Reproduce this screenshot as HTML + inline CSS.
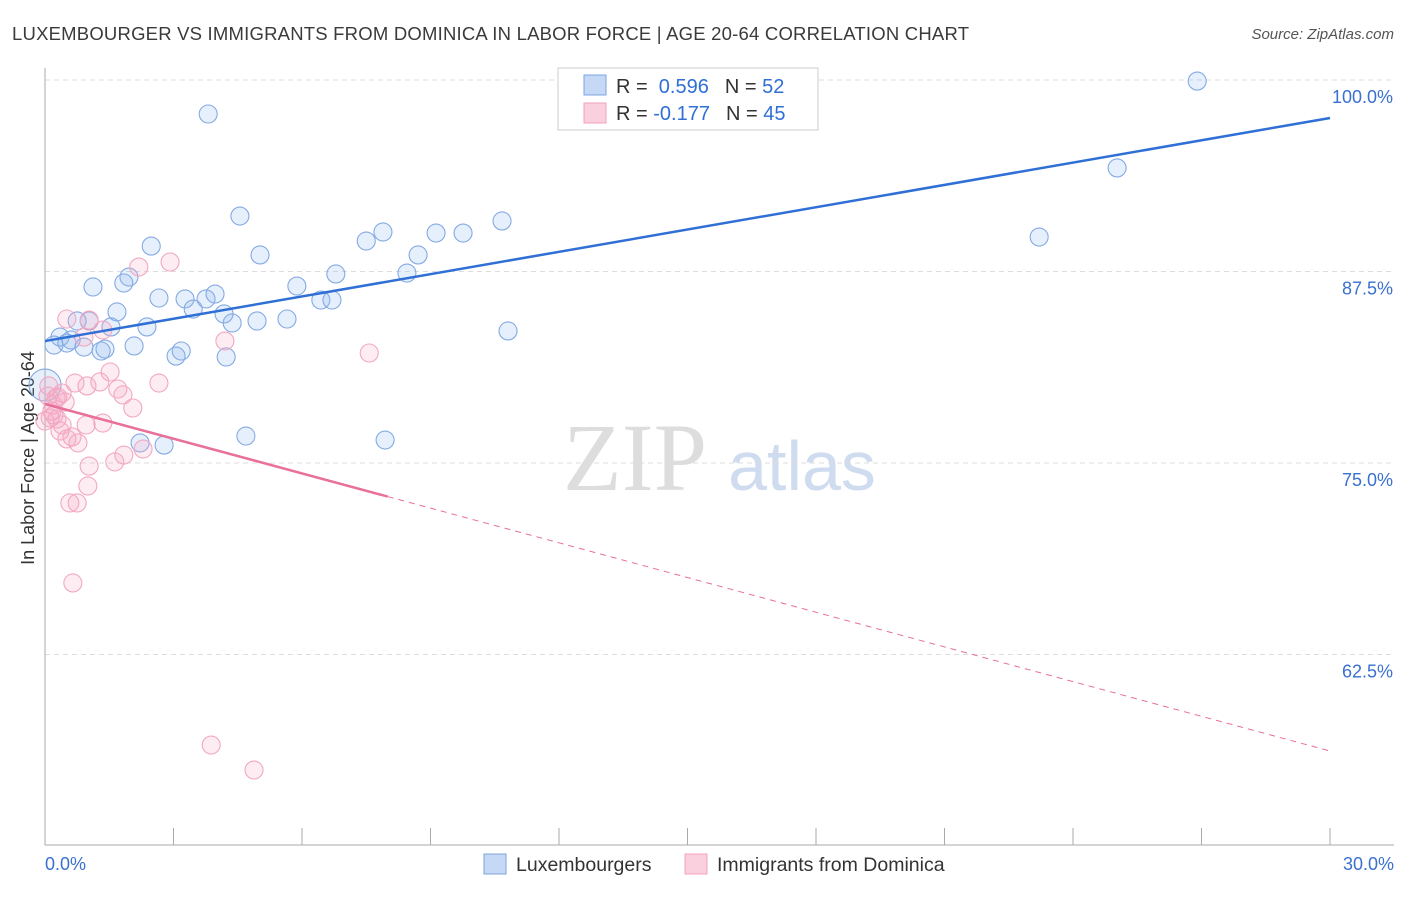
<!DOCTYPE html>
<html><head><meta charset="utf-8"><style>
body{margin:0;background:#fff;font-family:"Liberation Sans",sans-serif;}
</style></head><body>
<svg id="chart" width="1406" height="892" xmlns="http://www.w3.org/2000/svg" font-family="Liberation Sans, sans-serif">
<text x="12" y="40" font-size="18.5" fill="#3a3a3a" textLength="957" lengthAdjust="spacing">LUXEMBOURGER VS IMMIGRANTS FROM DOMINICA IN LABOR FORCE | AGE 20-64 CORRELATION CHART</text>
<text x="1394" y="39" font-size="15" fill="#555" font-style="italic" text-anchor="end">Source: ZipAtlas.com</text>
<g>
<text x="635" y="490" font-size="96" fill="#ddd" font-family="Liberation Serif, serif" text-anchor="middle">ZIP</text>
<text x="802" y="490" font-size="70" fill="#cfdcf0" text-anchor="middle">atlas</text>
</g>
<text transform="translate(34,458) rotate(-90)" font-size="18" fill="#333" text-anchor="middle">In Labor Force | Age 20-64</text>
<g id="grid"></g><g id="axes"></g><g id="marks"></g>
<g>
<rect x="558" y="68" width="260" height="62" fill="#fff" stroke="#ccc"/>
<rect x="584" y="75" width="22" height="20" fill="#c5d8f5" stroke="#7aa4e0"/>
<rect x="584" y="103" width="22" height="20" fill="#fbd0de" stroke="#f0a0bc"/>
<text x="616" y="93" font-size="20" fill="#333">R = <tspan fill="#2f6fd6">&#160;0.596</tspan><tspan dx="16">N = </tspan><tspan fill="#2f6fd6">52</tspan></text>
<text x="616" y="120" font-size="20" fill="#333">R = <tspan fill="#2f6fd6">-0.177</tspan><tspan dx="16">N = </tspan><tspan fill="#2f6fd6">45</tspan></text>
</g>
<g>
<rect x="484" y="854" width="22" height="20" fill="#c5d8f5" stroke="#7aa4e0"/>
<text x="516" y="871" font-size="19.5" fill="#333">Luxembourgers</text>
<rect x="685" y="854" width="22" height="20" fill="#fbd0de" stroke="#f0a0bc"/>
<text x="717" y="871" font-size="19.5" fill="#333">Immigrants from Dominica</text>
</g>
</svg>
<script>
const yTicks=[100,87.5,75,62.5];
const yTickLabels=["100.0%","87.5%","75.0%","62.5%"];
const xEnds=[0,30];
const xEndLabels=["0.0%","30.0%"];
const luxX=[3.81,26.90,25.03,23.21,4.55,2.48,5.02,7.89,7.50,9.13,9.76,10.67,8.71,6.79,8.45,1.96,1.84,1.12,2.66,3.27,3.76,3.97,5.88,6.44,6.70,3.46,1.68,4.18,4.37,4.95,5.65,2.38,1.54,1.03,0.75,0.35,0.21,0.51,0.61,0.91,1.31,1.40,2.08,3.18,3.06,4.23,10.81,0,2.22,2.78,4.69,7.94];
const luxY=[97.78,99.93,94.26,89.75,91.12,89.16,88.58,90.08,89.49,90.01,90.01,90.80,88.58,87.34,87.40,87.14,86.75,86.49,85.77,85.71,85.71,86.03,86.55,85.64,85.64,85.05,84.86,84.73,84.14,84.27,84.40,83.88,83.88,84.27,84.27,83.22,82.70,82.83,83.03,82.57,82.31,82.44,82.64,82.31,81.98,81.92,83.62,80.09,76.31,76.17,76.76,76.50];
const domX=[2.19,2.92,0.51,1.03,1.35,0.91,4.20,7.57,1.52,0.70,0.98,1.28,1.70,1.82,2.66,0.07,0.26,0.47,0.30,0.19,2.05,0.12,0.28,0.21,0.40,1.35,0.96,0.35,0.51,0.63,0.77,2.29,1.84,1.63,1.03,1.00,0.58,0.75,0.65,3.88,4.88,0,0.16,0.40,0.09];
const domY=[87.79,88.12,84.40,84.33,83.68,83.22,82.96,82.18,80.94,80.22,80.03,80.29,79.83,79.44,80.22,79.37,79.24,78.98,79.31,78.79,78.59,77.94,77.87,78.13,77.48,77.61,77.48,77.09,76.57,76.70,76.31,75.91,75.52,75.07,74.80,73.50,72.39,72.39,67.17,56.59,54.96,77.74,78.39,79.57,80.03];
const luxTrend=[82.96,97.52];
const domTrend=[78.85,56.20];
const domSolidEnd=8.0;
const X=v=>45+v/30*1285;
const Y=v=>80+(100-v)*15.32;
const NS="http://www.w3.org/2000/svg";
function mk(parent,tag,at){const e=document.createElementNS(NS,tag);for(const k in at)e.setAttribute(k,at[k]);document.getElementById(parent).appendChild(e);return e;}
yTicks.forEach((t,i)=>{
  const g=mk('grid','line',{x1:45,x2:1394,y1:Y(t),y2:Y(t),stroke:'#ddd','stroke-dasharray':'5,4'});
  
  
  const l=mk('grid','text',{x:1393,y:Y(t)+23,'font-size':18,fill:'#3a70d0','text-anchor':'end'});
  l.textContent=yTickLabels[i];
  
  
});
const ax=mk('axes','line',{x1:45,x2:45,y1:68,y2:845,stroke:'#aaa'});


const bx=mk('axes','line',{x1:45,x2:1394,y1:845,y2:845,stroke:'#aaa'});


for(let i=1;i<=10;i++){const t=mk('axes','line',{x1:X(i*3),x2:X(i*3),y1:828,y2:845,stroke:'#aaa'});
  
  }
xEnds.forEach((v,i)=>{const t=mk('axes','text',{x:i?1394:45,y:870,'font-size':18,fill:'#3a70d0','text-anchor':i?'end':'start'});t.textContent=xEndLabels[i];
  
  });
luxX.forEach((x,i)=>{const c=mk('marks','circle',{cx:X(x),cy:Y(luxY[i]),r:x===0?16:9,fill:'rgba(140,180,240,0.22)',stroke:'#84aae2','stroke-width':1.1});
  
  });
domX.forEach((x,i)=>{const c=mk('marks','circle',{cx:X(x),cy:Y(domY[i]),r:9,fill:'rgba(245,170,195,0.22)',stroke:'#f2a8c2','stroke-width':1.1});
  
  });
const bl=mk('marks','line',{x1:X(0),y1:Y(luxTrend[0]),x2:X(30),y2:Y(luxTrend[1]),stroke:'#2f6fd6','stroke-width':2.5});


const dm=domTrend[0]+(domTrend[1]-domTrend[0])*domSolidEnd/30;
const pl=mk('marks','line',{x1:X(0),y1:Y(domTrend[0]),x2:X(domSolidEnd),y2:Y(dm),stroke:'#e8709a','stroke-width':2.5});


const pd=mk('marks','line',{x1:X(domSolidEnd),y1:Y(dm),x2:X(30),y2:Y(domTrend[1]),stroke:'#e8709a','stroke-width':1,'stroke-dasharray':'6,5'});


</script>
</body></html>
